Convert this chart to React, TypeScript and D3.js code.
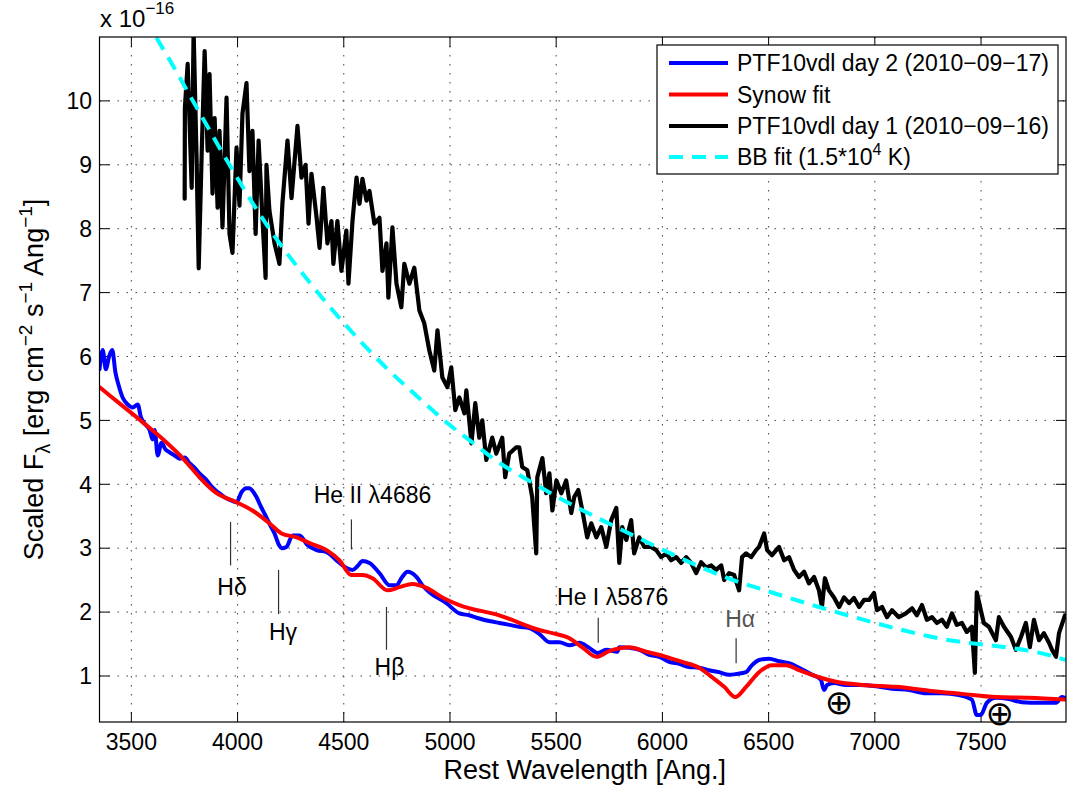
import React from 'react';
import * as d3 from 'd3';

// ---- Data (wavelength in Angstrom, flux in units of 1e-16) ----
const day1Wave = [3751, 3752, 3765, 3784, 3793, 3807, 3817, 3831, 3845, 3859, 3868, 3882, 3892, 3906, 3915, 3929, 3948, 3962, 3976, 3995, 4009, 4023, 4042, 4056, 4070, 4085, 4099, 4117, 4132, 4136, 4150, 4174, 4197, 4211, 4235, 4254, 4282, 4301, 4320, 4334, 4348, 4372, 4386, 4404, 4423, 4442, 4451, 4470, 4489, 4512, 4522, 4541, 4560, 4574, 4588, 4607, 4621, 4644, 4668, 4682, 4701, 4710, 4729, 4748, 4771, 4785, 4809, 4832, 4856, 4879, 4903, 4926, 4941, 4964, 4988, 5006, 5025, 5044, 5068, 5077, 5101, 5119, 5138, 5152, 5171, 5199, 5218, 5246, 5260, 5279, 5312, 5326, 5340, 5364, 5387, 5406, 5411, 5435, 5453, 5468, 5482, 5501, 5524, 5547, 5571, 5585, 5604, 5623, 5646, 5665, 5689, 5712, 5736, 5759, 5783, 5797, 5811, 5830, 5853, 5867, 5891, 5914, 5947, 5971, 5994, 6018, 6041, 6065, 6088, 6112, 6135, 6159, 6182, 6206, 6230, 6253, 6277, 6291, 6314, 6338, 6361, 6375, 6394, 6418, 6441, 6455, 6479, 6493, 6516, 6549, 6573, 6596, 6620, 6643, 6667, 6690, 6714, 6737, 6751, 6765, 6784, 6808, 6832, 6855, 6879, 6902, 6926, 6949, 6973, 6996, 7010, 7034, 7057, 7081, 7113, 7146, 7175, 7198, 7222, 7245, 7269, 7292, 7316, 7339, 7363, 7386, 7410, 7433, 7457, 7471, 7480, 7499, 7513, 7537, 7570, 7584, 7608, 7641, 7664, 7688, 7711, 7730, 7749, 7773, 7796, 7820, 7834, 7853, 7867, 7895];
const day1Flux = [8.47, 9.89, 10.58, 8.64, 11.1, 9.1, 7.38, 9.17, 10.78, 9.22, 10.42, 8.55, 9.73, 8.33, 9.53, 8.02, 10.05, 7.92, 7.62, 9.27, 8.36, 9.8, 10.28, 8.9, 9.53, 7.92, 9.38, 8.17, 7.23, 9.0, 8.28, 7.77, 7.45, 8.39, 9.38, 8.48, 9.61, 8.8, 9.0, 8.08, 8.86, 8.17, 7.7, 8.64, 7.77, 8.12, 7.45, 8.12, 7.34, 7.97, 7.14, 8.12, 8.8, 8.39, 8.78, 8.44, 8.59, 8.08, 8.17, 7.34, 7.77, 6.92, 8.02, 7.14, 6.77, 7.45, 7.14, 7.39, 6.72, 6.52, 6.09, 5.78, 6.41, 5.67, 5.52, 5.83, 5.16, 5.36, 5.11, 5.47, 4.64, 5.27, 4.73, 5.0, 4.38, 4.73, 4.48, 4.73, 4.11, 4.48, 4.58, 4.58, 4.27, 4.22, 3.8, 2.92, 4.11, 4.41, 3.86, 4.17, 3.59, 4.06, 3.86, 4.06, 3.55, 3.8, 3.91, 3.59, 3.17, 3.39, 3.17, 3.33, 3.02, 3.44, 3.63, 2.77, 3.33, 3.13, 3.44, 2.92, 3.17, 3.02, 3.02, 2.97, 2.86, 2.92, 2.81, 2.86, 2.77, 2.86, 2.77, 2.61, 2.78, 2.7, 2.73, 2.66, 2.73, 2.5, 2.61, 2.58, 2.34, 2.86, 2.92, 2.86, 2.97, 3.02, 3.23, 2.97, 2.89, 3.02, 2.81, 2.86, 2.66, 2.55, 2.63, 2.45, 2.55, 2.34, 2.08, 2.53, 2.34, 2.23, 2.08, 2.23, 2.14, 2.22, 2.08, 2.19, 2.19, 2.3, 2.03, 2.08, 1.92, 2.03, 1.92, 1.98, 2.06, 1.95, 2.11, 1.88, 1.92, 1.83, 1.88, 1.77, 1.98, 1.8, 1.83, 1.69, 1.77, 1.05, 2.31, 2.03, 1.83, 1.77, 1.56, 1.92, 1.77, 1.61, 1.41, 1.61, 1.83, 1.45, 1.88, 1.56, 1.67, 1.52, 1.41, 1.3, 1.67, 1.95];

const day2Wave = [3350, 3365, 3380, 3395, 3410, 3425, 3440, 3460, 3483, 3506, 3530, 3545, 3563, 3586, 3600, 3610, 3624, 3642, 3660, 3680, 3704, 3727, 3751, 3774, 3800, 3821, 3850, 3882, 3910, 3948, 3975, 3995, 4019, 4040, 4056, 4070, 4089, 4110, 4136, 4155, 4174, 4195, 4207, 4230, 4259, 4292, 4329, 4372, 4419, 4466, 4513, 4541, 4565, 4588, 4621, 4668, 4715, 4748, 4775, 4800, 4842, 4870, 4903, 4983, 5044, 5090, 5138, 5185, 5232, 5280, 5326, 5373, 5420, 5468, 5515, 5562, 5609, 5656, 5694, 5736, 5788, 5797, 5844, 5891, 5938, 5985, 6032, 6079, 6126, 6173, 6220, 6267, 6314, 6347, 6394, 6422, 6455, 6502, 6549, 6596, 6643, 6705, 6746, 6761, 6775, 6808, 6864, 6926, 7006, 7081, 7161, 7241, 7316, 7396, 7457, 7480, 7499, 7527, 7570, 7631, 7692, 7773, 7853, 7881, 7900];
const day2Flux = [5.8, 6.1, 5.8, 6.0, 6.1, 5.75, 5.55, 5.35, 5.25, 5.2, 5.25, 5.05, 4.95, 4.85, 4.7, 4.85, 4.45, 4.65, 4.55, 4.5, 4.45, 4.4, 4.42, 4.33, 4.25, 4.17, 4.08, 3.95, 3.87, 3.78, 3.74, 3.72, 3.88, 3.94, 3.94, 3.9, 3.8, 3.65, 3.48, 3.35, 3.23, 3.05, 3.0, 3.02, 3.2, 3.2, 3.05, 2.97, 2.94, 2.81, 2.69, 2.66, 2.72, 2.8, 2.77, 2.61, 2.42, 2.42, 2.55, 2.63, 2.55, 2.42, 2.31, 2.14, 1.98, 1.95, 1.9, 1.86, 1.83, 1.8, 1.77, 1.75, 1.66, 1.53, 1.53, 1.48, 1.52, 1.44, 1.36, 1.41, 1.38, 1.45, 1.44, 1.41, 1.33, 1.3, 1.22, 1.19, 1.14, 1.13, 1.09, 1.06, 1.02, 1.03, 1.06, 1.17, 1.25, 1.27, 1.23, 1.2, 1.13, 1.02, 0.94, 0.78, 0.86, 0.89, 0.86, 0.86, 0.84, 0.8, 0.78, 0.73, 0.73, 0.7, 0.63, 0.39, 0.39, 0.58, 0.66, 0.64, 0.59, 0.58, 0.58, 0.67, 0.65];

const synowWave = [3350, 3450, 3550, 3650, 3750, 3821, 3901, 3995, 4070, 4150, 4207, 4278, 4339, 4419, 4480, 4536, 4588, 4635, 4706, 4762, 4823, 4889, 4964, 5044, 5232, 5420, 5482, 5562, 5623, 5689, 5750, 5844, 5924, 6018, 6093, 6173, 6234, 6291, 6343, 6394, 6455, 6516, 6582, 6643, 6737, 6817, 6940, 7100, 7255, 7410, 7570, 7725, 7900];
const synowFlux = [5.52, 5.25, 4.98, 4.7, 4.38, 4.11, 3.86, 3.72, 3.59, 3.39, 3.23, 3.17, 3.08, 2.97, 2.81, 2.58, 2.58, 2.53, 2.34, 2.39, 2.44, 2.38, 2.23, 2.11, 1.95, 1.72, 1.67, 1.59, 1.45, 1.3, 1.39, 1.45, 1.38, 1.3, 1.22, 1.13, 0.98, 0.83, 0.67, 0.83, 1.06, 1.17, 1.17, 1.09, 0.98, 0.91, 0.86, 0.83, 0.77, 0.72, 0.67, 0.66, 0.63];

const bbWave = [3618, 3696, 3790, 3962, 4135, 4339, 4550, 4707, 4871, 4958, 5123, 5209, 5386, 5448, 5844, 6361, 6455, 6737, 7270, 7850, 7900];
const bbFlux = [10.99, 10.55, 10.0, 9.0, 8.07, 7.16, 6.34, 5.8, 5.3, 5.04, 4.61, 4.39, 4.03, 3.91, 3.23, 2.47, 2.37, 2.08, 1.61, 1.3, 1.25];

const xTicks = [3500, 4000, 4500, 5000, 5500, 6000, 6500, 7000, 7500];
const yTicks = [1, 2, 3, 4, 5, 6, 7, 8, 9, 10];

// line annotations: wavelength, line top/bottom flux, label wavelength, label baseline flux
const lineLabels = ['Hδ', 'Hγ', 'He II λ4686', 'Hβ', 'He I λ5876', 'Hα'];
const lineWave = [3967, 4193, 4536, 4701, 5698, 6347];
const lineTop = [3.41, 2.66, 3.45, 2.08, 1.91, 1.59];
const lineBottom = [2.73, 1.97, 2.98, 1.41, 1.52, 1.2];
const labelWave = [3974, 4214, 4635, 4715, 5766, 6366];
const labelFlux = [2.27, 1.56, 3.7, 1.02, 2.11, 1.77];
const labelColor = ['#000', '#000', '#000', '#000', '#000', '#555'];

const telluricWave = [6831, 7588];
const telluricFlux = [0.59, 0.42];

const legendLabels = ['PTF10vdl day 2 (2010−09−17)', 'Synow fit', 'PTF10vdl day 1 (2010−09−16)', 'BB fit (1.5*10'];

export default function App() {
  const W = 1067, H = 789;
  const left = 99.5, right = 1066, top = 37, bottom = 722;
  const x = d3.scaleLinear().domain([3350, 7900]).range([left, right]);
  const y = d3.scaleLinear().domain([0.28, 11]).range([bottom, top]);

  const mk = (xs: number[], ys: number[], curve: any) =>
    d3.line<number>().x((d) => x(d)).y((_, i) => y(ys[i])).curve(curve)(xs) || '';

  const blueP = mk(day2Wave, day2Flux, d3.curveMonotoneX);
  const redP = mk(synowWave, synowFlux, d3.curveMonotoneX);
  const blackP = mk(day1Wave, day1Flux, d3.curveLinear);
  const cyanP = mk(bbWave, bbFlux, d3.curveMonotoneX);

  const font = 'Liberation Sans, Arial, Helvetica, sans-serif';
  const grid = '#444';

  const legY = [63, 94.5, 126, 157];
  const legStroke = ['#0000ff', '#ff0000', '#000000', '#00ffff'];

  return (
    <svg width={W} height={H} style={{ position: 'absolute', left: 0, top: 0, background: '#fff' }} fontFamily={font}>
      <defs>
        <clipPath id="plotclip">
          <rect x={left} y={top} width={right - left} height={bottom - top} />
        </clipPath>
      </defs>
      <rect x={0} y={0} width={W} height={H} fill="#fff" />
      {/* grid */}
      {xTicks.map((t) => (
        <line key={'gx' + t} x1={x(t)} x2={x(t)} y1={top} y2={bottom} stroke={grid} strokeWidth={1} strokeDasharray="1.5,7.5" />
      ))}
      {yTicks.map((t) => (
        <line key={'gy' + t} x1={left} x2={right} y1={y(t)} y2={y(t)} stroke={grid} strokeWidth={1} strokeDasharray="1.5,7.5" />
      ))}
      {/* ticks */}
      {xTicks.map((t) => (
        <g key={'tx' + t}>
          <line x1={x(t)} x2={x(t)} y1={bottom} y2={bottom - 10} stroke="#000" />
          <line x1={x(t)} x2={x(t)} y1={top} y2={top + 10} stroke="#000" />
          <text x={x(t)} y={749.5} fontSize={23} textAnchor="middle">{t}</text>
        </g>
      ))}
      {yTicks.map((t) => (
        <g key={'ty' + t}>
          <line x1={left} x2={left + 10} y1={y(t)} y2={y(t)} stroke="#000" />
          <line x1={right} x2={right - 10} y1={y(t)} y2={y(t)} stroke="#000" />
          <text x={92} y={y(t)} dy="0.36em" fontSize={23} textAnchor="end">{t}</text>
        </g>
      ))}
      {/* data */}
      <g clipPath="url(#plotclip)" fill="none" strokeLinejoin="round" strokeLinecap="round">
        <path d={blueP} stroke="#0000ff" strokeWidth={4} />
        <path d={redP} stroke="#ff0000" strokeWidth={4} />
        <path d={blackP} stroke="#000" strokeWidth={4.2} />
        <path d={cyanP} stroke="#00ffff" strokeWidth={4} strokeDasharray="14,9" strokeLinecap="butt" />
      </g>
      {/* annotations */}
      {lineLabels.map((lab, i) => (
        <g key={'ann' + i}>
          <line x1={x(lineWave[i])} x2={x(lineWave[i])} y1={y(lineTop[i])} y2={y(lineBottom[i])} stroke="#333" strokeWidth={1.2} />
          <text x={x(labelWave[i])} y={y(labelFlux[i])} fontSize={23} textAnchor="middle" fill={labelColor[i]}>{lab}</text>
        </g>
      ))}
      {telluricWave.map((w, i) => (
        <text key={'tel' + i} x={x(w)} y={y(telluricFlux[i])} dy="0.36em" fontSize={34} textAnchor="middle" fontFamily="DejaVu Sans, sans-serif">⊕</text>
      ))}
      {/* axes box */}
      <rect x={left} y={top} width={right - left} height={bottom - top} fill="none" stroke="#000" strokeWidth={1.2} />
      {/* legend */}
      <rect x={657} y={45} width={401} height={129} fill="#fff" stroke="#000" strokeWidth={1.2} />
      {legendLabels.map((lab, i) => (
        <g key={'leg' + i}>
          <line x1={669} x2={728} y1={legY[i]} y2={legY[i]} stroke={legStroke[i]} strokeWidth={4} strokeDasharray={i === 3 ? '14,9' : undefined} />
          <text x={737} y={legY[i]} dy="0.36em" fontSize={23}>
            {lab}
            {i === 3 ? (
              <>
                <tspan dy={-10} fontSize={16}>4</tspan>
                <tspan dy={10}> K)</tspan>
              </>
            ) : null}
          </text>
        </g>
      ))}
      {/* exponent */}
      <text x={100} y={27} fontSize={24}>
        x 10<tspan dy={-13} fontSize={17}>−16</tspan>
      </text>
      {/* axis labels */}
      <text x={(left + right) / 2 + 2} y={779} fontSize={27} textAnchor="middle">Rest Wavelength [Ang.]</text>
      <text transform={`translate(43, ${(top + bottom) / 2}) rotate(-90)`} fontSize={27} textAnchor="middle">
        Scaled F<tspan dy={7} fontSize={20}>λ</tspan>
        <tspan dy={-7}> [erg cm</tspan>
        <tspan dy={-11} fontSize={19}>−2</tspan>
        <tspan dy={11}> s</tspan>
        <tspan dy={-11} fontSize={19}>−1</tspan>
        <tspan dy={11}> Ang</tspan>
        <tspan dy={-11} fontSize={19}>−1</tspan>
        <tspan dy={11}>]</tspan>
      </text>
    </svg>
  );
}
